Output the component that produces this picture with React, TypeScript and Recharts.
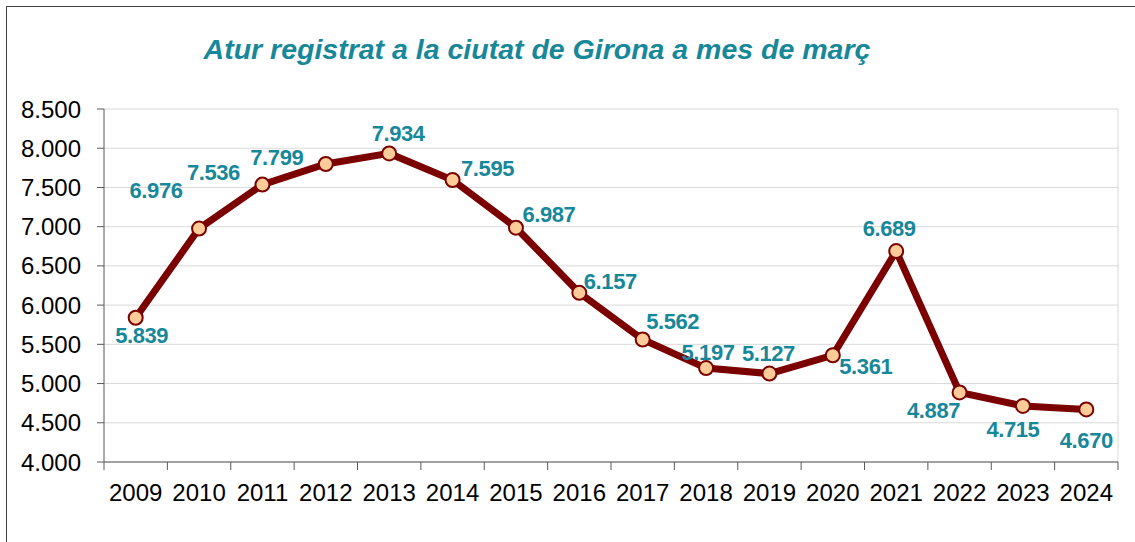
import { LineChart, Line, XAxis, YAxis, CartesianGrid, LabelList } from 'recharts';

const years = ['2009', '2010', '2011', '2012', '2013', '2014', '2015', '2016', '2017', '2018', '2019', '2020', '2021', '2022', '2023', '2024'];
const atur = [5839, 6976, 7536, 7799, 7934, 7595, 6987, 6157, 5562, 5197, 5127, 5361, 6689, 4887, 4715, 4670];
const yTicks = [4000, 4500, 5000, 5500, 6000, 6500, 7000, 7500, 8000, 8500];

// where each value label sits relative to its point (dx, dy)
const labelOffsets = [
  [6, 18], [-43, -38], [-49, -12], [-49, -6], [9, -20], [35, -11], [33, -13], [31, -11],
  [30, -18], [2, -16], [-1, -20], [33, 11], [-7, -23], [-26, 18], [-10, 24], [0, 31],
];

const data = years.map((y, i) => ({ year: y, value: atur[i] }));

const fmt = (v: number) => String(v).replace(/\B(?=(\d{3})+(?!\d))/g, '.');

const FONT = '"Liberation Sans", Arial, sans-serif';
const TEAL = '#17879a';
const HALF = (1118 - 104) / 16 / 2;

const XTick = (props: any) => {
  const { x, y, payload, index } = props;
  const last = index === years.length - 1;
  return (
    <g>
      <line x1={x - HALF} x2={x - HALF} y1={y - 8} y2={y} stroke='#595959' />
      {last && <line x1={x + HALF} x2={x + HALF} y1={y - 8} y2={y} stroke='#595959' />}
      <text x={x} y={y} dy={31} textAnchor='middle' fontSize={24} fontFamily={FONT} fill='#000'>
        {payload.value}
      </text>
    </g>
  );
};

const ValueLabel = (props: any) => {
  const { x, y, value, index } = props;
  const [dx, dy] = labelOffsets[index];
  return (
    <text x={x + dx} y={y + dy} textAnchor='middle' dominantBaseline='central' fontSize={22} letterSpacing={-0.4} fontWeight='bold' fontFamily={FONT} fill={TEAL}>
      {fmt(value)}
    </text>
  );
};

export default function App() {
  return (
    <div style={{ position: 'absolute', left: 0, top: 0, width: 1135, height: 542, overflow: 'hidden', background: '#fff' }}>
      <div style={{ position: 'absolute', left: 6, top: 6, width: 1160, height: 560, border: '1.5px solid #404040' }} />
      <div
        style={{
          position: 'absolute',
          left: 0,
          top: 33,
          width: 1074,
          textAlign: 'center',
          fontFamily: FONT,
          fontSize: 28.5,
          fontWeight: 'bold',
          fontStyle: 'italic',
          color: TEAL,
          whiteSpace: 'nowrap',
        }}>
        Atur registrat a la ciutat de Girona a mes de març
      </div>
      <div style={{ position: 'absolute', left: 0, top: 0 }}>
        <LineChart width={1135} height={542} data={data} margin={{ top: 109, right: 17, left: 0, bottom: 20 }}>
          <CartesianGrid stroke='#d9d9d9' verticalPoints={[1118]} />
          <XAxis
            dataKey='year'
            height={60}
            padding={{ left: HALF, right: HALF }}
            tickLine={false}
            tickSize={8}
            tickMargin={0}
            axisLine={{ stroke: '#595959' }}
            tick={<XTick />}
            interval={0}
          />
          <YAxis
            width={104}
            domain={[4000, 8500]}
            ticks={yTicks}
            interval={0}
            tickFormatter={fmt}
            tickSize={7}
            tickMargin={16}
            axisLine={{ stroke: '#595959' }}
            tickLine={{ stroke: '#595959' }}
            tick={{ fontSize: 24, fontFamily: FONT, fill: '#000' }}
          />
          <Line
            type='linear'
            dataKey='value'
            stroke='#7b0000'
            strokeWidth={7}
            dot={{ r: 7, fill: '#ffcc99', stroke: '#7b0000', strokeWidth: 2 }}
            isAnimationActive={false}>
            <LabelList dataKey='value' content={<ValueLabel />} />
          </Line>
        </LineChart>
      </div>
    </div>
  );
}
